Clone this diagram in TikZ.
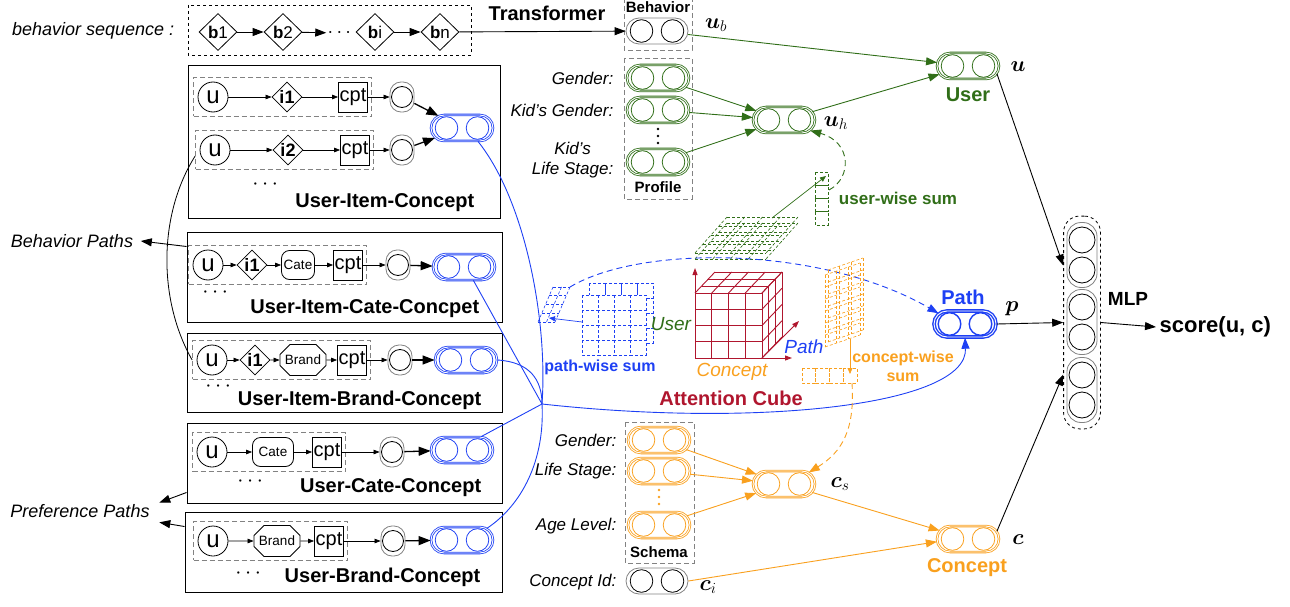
\documentclass[tikz,border=0pt]{standalone}
\usepackage{fix-cm}
\usepackage{amsmath}
\usepackage{fontspec}
\setmainfont{Liberation Sans}
\usetikzlibrary{shapes.geometric,shapes.misc,arrows.meta,fit,positioning}
\newcommand{\bo}[1]{\boldsymbol{#1}}
\newcommand{\fs}[1]{\fontsize{#1}{#1}\selectfont}

\definecolor{pGreen}{RGB}{48,110,24}
\definecolor{pBlue}{RGB}{30,64,244}
\definecolor{pOrange}{RGB}{249,160,30}
\definecolor{pRed}{RGB}{176,22,46}
\definecolor{pGray}{RGB}{130,130,130}

\tikzset{
    pill/.style={rounded rectangle, minimum width=62pt, minimum height=26pt, inner sep=0pt},
    twocirc/.style={path picture={
        \draw[#1] ([xshift=-15.5pt]path picture bounding box.center) circle (11.3pt)
                  ([xshift=15.5pt]path picture bounding box.center) circle (11.3pt);}},
    vec/.style={pill, draw=#1, double, double distance=0.9pt, twocirc=#1},
    gvec/.style={pill, draw=pGray, twocirc=black},
    dotcap/.style={rectangle, rounded corners=11pt, draw=pGray, minimum width=24pt,
        minimum height=30pt, inner sep=0pt,
        path picture={\draw[black] (path picture bounding box.center) circle (10.5pt);}},
    mlpcap/.style={rectangle, rounded corners=14pt, draw=pGray, minimum width=30pt,
        minimum height=65pt, inner sep=0pt,
        path picture={\draw[black] ([yshift=15pt]path picture bounding box.center) circle (13pt)
                                   ([yshift=-15pt]path picture bounding box.center) circle (13pt);}},
    usr/.style={circle, draw, minimum size=30pt, inner sep=0pt, font=\fs{24}},
    itm/.style={diamond, draw, minimum width=30pt, minimum height=30pt, inner sep=0pt, font=\fs{18}\bfseries},
    bhv/.style={diamond, draw, minimum width=38pt, minimum height=37pt, inner sep=0pt, font=\fs{17}},
    cpt/.style={rectangle, draw, minimum width=29pt, minimum height=30pt, inner sep=0pt, font=\fs{20}},
    cate/.style={rectangle, draw, rounded corners=8pt, minimum height=29pt, inner sep=1pt, font=\fs{13.5}},
    brand/.style={chamfered rectangle, chamfered rectangle xsep=5pt, chamfered rectangle ysep=5pt,
        draw, minimum width=38pt, minimum height=31pt, inner sep=0pt, font=\fs{13.5}},
    pathbox/.style={draw, line width=1pt, inner sep=0pt},
    grayline/.style={draw=pGray, dash pattern=on 5pt off 3pt, line width=0.9pt},
    rowbox/.style={grayline, inner xsep=4pt, inner ysep=4pt},
    longdash/.style={dash pattern=on 6pt off 4pt},
    tarr/.style={-{Triangle[length=6pt,width=4.5pt]}, line width=0.7pt},
    barr/.style={-{Triangle[length=12pt,width=9pt]}, line width=1.3pt},
    arr/.style={-{Triangle[length=11pt,width=8pt]}, line width=0.9pt},
    sarr/.style={-{Triangle[length=6pt,width=5pt]}, line width=0.7pt},
    bline/.style={pBlue, line width=0.9pt},
    dgrid/.style={dash pattern=on 3pt off 2pt, line width=0.6pt},
    lbl/.style={font=\fontsize{17}{20}\selectfont\itshape},
    ttl/.style={font=\fs{20}\bfseries},
    sml/.style={font=\fs{15}\bfseries},
    mth/.style={font=\fs{22}},
    more/.style={font=\fs{22}},
}

\begin{document}
\begin{tikzpicture}[x=1pt, y=-1pt, line width=0.8pt]
    \useasboundingbox (0,0) rectangle (1290,607);

    % behavior sequence
    \node[lbl, font=\fs{18}\itshape, anchor=east] at (178,31) {behavior sequence :};
    \draw[dashed, line width=0.9pt] (188,5) rectangle (471,55);
    \node[bhv] (b1) at (218,32) {\textbf{b}1};
    \node[bhv] (b2) at (283,32) {\textbf{b}2};
    \node[font=\fs{20}, inner sep=1pt] (bdots) at (341,33) {$\cdots$};
    \node[bhv] (bi) at (375,32) {\textbf{b}i};
    \node[bhv] (bn) at (440,32) {\textbf{b}n};
    \foreach \a/\b in {b1/b2, b2/bdots, bi/bn}
        \draw[arr] (\a) -- (\b);

    % user side
    \draw[grayline] (624,-2) rectangle (692,50);
    \node[sml] at (658,7) {Behavior};
    \node[gvec] (behv) at (657,31) {};
    \draw[arr] (bn) -- (behv);
    \node[ttl] at (547,13) {Transformer};
    \node[mth] at (716,25) {$\bo{u}_b$};

    \draw[grayline] (624,58) rectangle (692,199);
    \node[vec=pGreen] (gen) at (658,78) {};
    \node[vec=pGreen] (kgen) at (658,110) {};
    \foreach \y in {129,136,143}
        \fill (658,\y) circle (1.4pt);
    \node[vec=pGreen] (kls) at (658,162) {};
    \node[sml] at (658,187) {Profile};
    \node[lbl, anchor=east] at (617,78) {Gender:};
    \node[lbl, anchor=east] at (617,110) {Kid's Gender:};
    \node[lbl, anchor=east, align=center] at (617,160) {Kid's\\Life Stage:};

    \node[vec=pGreen] (uh) at (784,120) {};
    \node[mth] at (836,123) {$\bo{u}_h$};
    \node[vec=pGreen] (user) at (968,66) {};
    \node[ttl, text=pGreen] at (968,95) {User};
    \node[mth] at (1018,67) {$\bo{u}$};
    \foreach \a in {gen, kgen, kls}
        \draw[arr, pGreen] (\a) -- (uh);
    \draw[arr, pGreen] (behv) -- (user);
    \draw[arr, pGreen] (uh) -- (user);

    % user-wise sum
    \begin{scope}[pGreen, dgrid]
        \foreach \k in {0,6} {
            \foreach \j in {0,...,4}
                \draw (727-8*\j, 217+9*\j+\k) -- ++(71,0);
            \foreach \i in {0,...,4}
                \draw (727+17.75*\i, 217+\k) -- ++(-32,36);
        }
        \foreach \j in {0,...,3}
            \draw (815, 172+13.25*\j) rectangle ++(13,13.25);
    \end{scope}
    \coordinate (ggrid) at (772,218);
    \coordinate (gcol) at (826,176);
    \draw[sarr, pGreen] (ggrid) -- (gcol);
    \coordinate (gcolr) at (829,190);
    \draw[arr, pGreen, longdash] (gcolr) .. controls (852,178) and (852,142) .. (uh.-22);
    \node[font=\fs{17}\bfseries, text=pGreen] at (898,198) {user-wise sum};

    % path boxes
    \node[pathbox, minimum width=312pt, minimum height=153pt] (bx1) at (344,142) {};
    \node[usr] (u11) at (213,97) {u};
    \node[itm] (i11) at (287,97) {i1};
    \node[cpt] (c11) at (353,97) {cpt};
    \node[dotcap] (d11) at (402,97) {};
    \node[usr] (u12) at (215,150) {u};
    \node[itm] (i12) at (288,150) {i2};
    \node[cpt] (c12) at (355,150) {cpt};
    \node[dotcap] (d12) at (402,150) {};
    \node[rowbox, fit=(u11)(c11)] (r11) {};
    \node[rowbox, fit=(u12)(c12)] (r12) {};
    \node[vec=pBlue] (p1) at (462,128) {};
    \node[more] at (267,185) {$\cdots$};
    \node[ttl, anchor=base east] at (478,207) {User-Item-Concept};

    \node[pathbox, minimum width=315pt, minimum height=90pt] (bx2) at (344.5,277) {};
    \node[usr] (u2) at (208,265) {u};
    \node[itm] (i2) at (252,265) {i1};
    \node[cate, minimum width=33pt] (x2) at (298,265) {Cate};
    \node[cpt] (c2) at (348,265) {cpt};
    \node[dotcap] (d2) at (398,265) {};
    \node[rowbox, fit=(u2)(c2)] (r2) {};
    \node[vec=pBlue] (p2) at (464,267) {};
    \node[more] at (217,293) {$\cdots$};
    \node[ttl, anchor=base east] at (483,313) {User-Item-Cate-Concpet};

    \node[pathbox, minimum width=315pt, minimum height=79pt] (bx3) at (344.5,372.5) {};
    \node[usr] (u3) at (212,360) {u};
    \node[itm] (i3) at (255,360) {i1};
    \node[brand] (x3) at (303,360) {Brand};
    \node[cpt] (c3) at (352,360) {cpt};
    \node[dotcap] (d3) at (400,360) {};
    \node[rowbox, fit=(u3)(c3)] (r3) {};
    \node[vec=pBlue] (p3) at (466,360) {};
    \node[more] at (220,387) {$\cdots$};
    \node[ttl, anchor=base east] at (485,405) {User-Item-Brand-Concept};

    \node[pathbox, minimum width=315pt, minimum height=80pt] (bx4) at (344.5,463) {};
    \node[usr] (u4) at (212,452) {u};
    \node[cate, minimum width=41pt] (x4) at (273,452) {Cate};
    \node[cpt] (c4) at (327,452) {cpt};
    \node[dotcap] (d4) at (392,452) {};
    \node[rowbox, fit=(u4)(c4)] (r4) {};
    \node[vec=pBlue] (p4) at (462,450) {};
    \node[more] at (252,482) {$\cdots$};
    \node[ttl, anchor=base east] at (485,492) {User-Cate-Concept};

    \node[pathbox, minimum width=317pt, minimum height=80pt] (bx5) at (343.5,552) {};
    \node[usr] (u5) at (213,541) {u};
    \node[brand, minimum width=42pt] (x5) at (277,541) {Brand};
    \node[cpt] (c5) at (329,541) {cpt};
    \node[dotcap] (d5) at (393,541) {};
    \node[rowbox, fit=(u5)(c5)] (r5) {};
    \node[vec=pBlue] (p5) at (462,540) {};
    \node[more] at (250,574) {$\cdots$};
    \node[ttl, anchor=base east] at (484,582) {User-Brand-Concept};

    \foreach \a/\b in {u11/i11, i11/c11, c11/d11, u12/i12, i12/c12, c12/d12,
                       u2/i2, i2/x2, x2/c2, c2/d2, u3/i3, i3/x3, x3/c3, c3/d3,
                       u4/x4, x4/c4, c4/d4, u5/x5, x5/c5, c5/d5}
        \draw[tarr] (\a) -- (\b);
    \foreach \a/\b in {d11/p1, d12/p1, d2/p2, d3/p3, d4/p4, d5/p5}
        \draw[barr] (\a) -- (\b);

    % path kinds
    \node[lbl, font=\fs{18}\itshape] (bpl) at (72,241) {Behavior Paths};
    \node[lbl, font=\fs{18}\itshape] (ppl) at (80,511) {Preference Paths};
    \draw[arr] ([yshift=-15pt]bx2.north west) -- ([xshift=4pt]bpl.east);
    \draw ([yshift=-6pt]r12.west) .. controls (158,215) and (158,300) .. (r3.west);
    \draw[arr] ([yshift=11pt]bx4.south west) -- ([xshift=6pt,yshift=-2pt]ppl.north east);
    \draw[arr] ([yshift=-15pt]bx5.north west) -- ([xshift=6pt,yshift=-1pt]ppl.south east);

    % path aggregation
    \coordinate (hub) at (542,404);
    \draw[bline] (p1.-40) .. controls (525,200) and (548,320) .. (hub);
    \draw[bline] (p2.-55) -- (hub);
    \draw[bline] (p3.east) .. controls (530,362) and (542,380) .. (hub);
    \draw[bline] (p4.35) -- (hub);
    \draw[bline] (p5.25) .. controls (522,505) and (545,460) .. (hub);

    \node[vec=pBlue, line width=1.4pt] (path) at (965,324) {};
    \node[ttl, text=pBlue] at (963,297) {Path};
    \node[mth] at (1012,309) {$\bo{p}$};
    \draw[bline, arr] (hub) .. controls (760,428) and (968,405) .. (path.south);

    % path-wise sum
    \begin{scope}[pBlue, dgrid]
        \foreach \i in {0,...,3}
            \foreach \j in {0,...,3}
                \draw (589+16*\i, 283+15*\j) rectangle ++(16,15);
        \foreach \i in {0,...,3}
            \foreach \j in {0,...,3}
                \draw[fill=white] (582+16*\i, 295+15*\j) rectangle ++(16,15);
        \foreach \j in {0,...,4}
            \draw (553-3.75*\j, 287+8.75*\j) -- ++(17,0);
        \foreach \i in {0,1,2}
            \draw (553+8.5*\i, 287) -- ++(-15,35);
    \end{scope}
    \coordinate (pgrid) at (582,322);
    \coordinate (pslice) at (549,318);
    \coordinate (pslicet) at (570,287);
    \draw[sarr, pBlue] (pgrid) -- (pslice);
    \draw[arr, bline, longdash] (pslicet) .. controls (640,245) and (820,245) .. (path.158);
    \node[font=\fs{16}\bfseries, text=pBlue] at (600,367) {path-wise sum};

    % attention cube
    \begin{scope}[pRed, line width=0.9pt]
        \foreach \k in {0,...,4} {
            \draw (695+16.75*\k, 293) -- ++(0,65);
            \draw (695, 293+16.25*\k) -- ++(67,0);
            \draw (695+16.75*\k, 293) -- ++(20,-21);
            \draw (762, 293+16.25*\k) -- ++(20,-21);
        }
        \foreach \d in {1,2,3} {
            \draw (695+6.67*\d, 293-7*\d) -- ++(67,0);
            \draw (762+6.67*\d, 293-7*\d) -- ++(0,65);
        }
        \draw[-{Triangle[length=7pt,width=5pt]}] (695,358) -- (695,268);
        \draw[-{Triangle[length=7pt,width=5pt]}] (695,358) -- (792,358);
        \draw[-{Triangle[length=7pt,width=5pt]}] (762,358) -- (799,321);
    \end{scope}
    \node[font=\fs{19}\itshape, text=pGreen] at (671,324) {User};
    \node[font=\fs{19}\itshape, text=pBlue] at (804,347) {Path};
    \node[font=\fs{19}\itshape, text=pOrange] at (732,372) {Concept};
    \node[ttl, text=pRed] at (731,398) {Attention Cube};

    % concept-wise sum
    \begin{scope}[pOrange, dgrid]
        \foreach \s in {0,1} {
            \foreach \j in {0,...,6}
                \draw (828-3*\s, 270+12*\j+5*\s) -- ++(35,-12);
            \foreach \i in {0,...,3}
                \draw (828+11.67*\i-3*\s, 270-4*\i+5*\s) -- ++(0,72);
        }
        \foreach \i in {0,...,3}
            \draw (802+13.75*\i, 368) rectangle ++(13.75,15);
    \end{scope}
    \coordinate (ogrid) at (850,339);
    \coordinate (orow) at (850,374);
    \coordinate (orowb) at (852,383);
    \draw[sarr, pOrange] (ogrid) -- (orow);
    \node[font=\fontsize{16}{19}\selectfont\bfseries, text=pOrange, align=center] at (903,366) {concept-wise\\sum};

    % concept side
    \draw[grayline] (625,422) rectangle (694,563);
    \node[vec=pOrange] (sgen) at (659,440) {};
    \node[vec=pOrange] (sls) at (659,471) {};
    \foreach \y in {490,497,504}
        \fill[pOrange] (659,\y) circle (1.4pt);
    \node[vec=pOrange] (sage) at (659,525) {};
    \node[sml] at (659,552) {Schema};
    \node[gvec] (cid) at (657,581) {};
    \node[lbl, anchor=east] at (620,440) {Gender:};
    \node[lbl, anchor=east] at (620,471) {Life Stage:};
    \node[lbl, anchor=east] at (620,526) {Age Level:};
    \node[lbl, anchor=east] at (620,582) {Concept Id:};

    \node[vec=pOrange] (cs) at (784,484) {};
    \node[mth] at (840,484) {$\bo{c}_s$};
    \node[vec=pOrange] (concept) at (968,539) {};
    \node[ttl, text=pOrange] at (967,568) {Concept};
    \node[mth] at (1018,540) {$\bo{c}$};
    \node[mth] at (708,587) {$\bo{c}_i$};
    \foreach \a in {sgen, sls, sage}
        \draw[arr, pOrange] (\a) -- (cs);
    \draw[arr, pOrange] (cs) -- (concept);
    \draw[arr, pOrange] (cid.east) -- (concept.185);
    \draw[arr, pOrange, longdash] (orowb) .. controls (855,430) and (842,452) .. (cs.25);

    % MLP
    \node[mlpcap] (m1) at (1082,255) {};
    \node[mlpcap] (m2) at (1082,322) {};
    \node[mlpcap] (m3) at (1082,390) {};
    \node[draw, dashed, rounded corners=16pt, fit=(m1)(m3), inner xsep=3pt, inner ysep=6pt] (mlp) {};
    \node[font=\fs{19}\bfseries] at (1128,299) {MLP};
    \node[font=\fs{22}\bfseries, anchor=west] (score) at (1156,327) {score(u, c)};
    \draw[arr] (user.-15) -- ([yshift=57pt]mlp.west);
    \draw[arr] (path.east) -- (mlp.west);
    \draw[arr] (concept.15) -- ([yshift=-52pt]mlp.west);
    \draw[arr] (mlp.east) -- (score.west);
\end{tikzpicture}
\end{document}
